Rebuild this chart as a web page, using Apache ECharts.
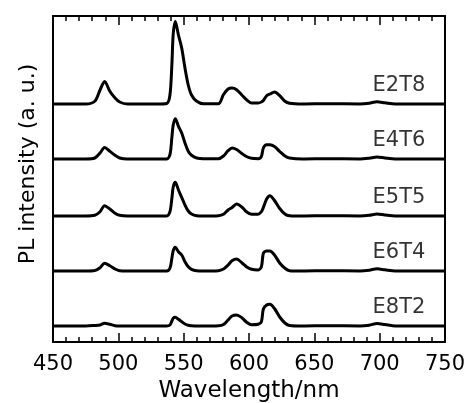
<!DOCTYPE html>
<html>
<head>
<meta charset="utf-8">
<script src="https://cdn.jsdelivr.net/npm/echarts@6/dist/echarts.min.js"></script>
<style>
  html, body { margin: 0; padding: 0; background: #fff; }
  #chart { width: 467px; height: 403px; }
</style>
</head>
<body>
<div id="chart"></div>
<script>
// 波长 (nm)，所有样品共用
var wavelengths = [450, 475, 482, 486, 489.5, 493.5, 497.5, 501, 507, 530, 537, 539.5, 541, 542, 543.6, 546, 548.5, 551, 553.5, 556, 560, 565, 576.5, 580.5, 584, 587, 590.5, 594.5, 598, 602, 607, 609.5, 611, 613.5, 616, 619.5, 623.5, 627.5, 631, 641, 660, 685, 692, 698, 704, 712, 750];

// 各样品的 PL 强度 (a.u.)
var e2t8 = [0,0,2.7,14,22.6,12.7,6,2,0,0,0.5,9,40,70,82.6,69,56,36,19,9,2.7,0.3,0.3,9.5,15,16,14.3,9,4.3,1,1,2,3.5,8.3,10,12,8.3,2.7,0.7,0,0.3,0,0.8,2.2,1.2,0,0];
var e4t6 = [0,0,1,6,11.5,7.7,3.7,1,0,0,0,4.3,22,34,40.3,32.7,26,16,7.7,3.7,1,0.3,0.3,3,8.3,11,9.5,5.5,2.5,0.7,0.3,2.7,11,14.3,14.3,12.5,7.5,3,1,0,0.3,0,0.8,2,1,0,0];
var e5t5 = [0,0,0.7,4.3,10.3,7,2.7,0.7,0,0,0,4.3,18,29,33.7,26,18.7,11,5,2,0.3,0,0.3,1.7,6,8.5,12,9,4.3,1.7,1.7,4.3,8.5,17,20.3,15.5,7.5,2,0.3,0,0.3,0,0.7,2,1,0,0];
var e6t4 = [0,0,0.5,3.3,7.7,5.3,2,0.3,0,0,0,2.7,13,20.3,23.7,19.3,16,9.3,4.3,1.7,0.3,0,0.3,2,6,10.3,12,8.3,4.3,1.7,1,4.3,17.7,20,20,16,8,2.7,0.3,0,0.3,0,0.8,2.2,1.2,0,0];
var e8t2 = [0,0,0.5,1,2.7,1.7,0.3,0,0,0,0,1,5,7.7,8.7,6.7,4.3,2,0.7,0.3,0,0,0.3,1.5,6,10,11,8.3,4,1.2,1.7,4.3,17,21,21.7,17.5,9,3,0.5,0,0.3,0,0.8,2.5,1.5,0,0];

var names = ['E2T8', 'E4T6', 'E5T5', 'E6T4', 'E8T2'];
var spectra = [e2t8, e4t6, e5t5, e6t4, e8t2];
var offsets = [222, 167, 110, 55, 0];   // 纵向错开
var xTicks = [450, 500, 550, 600, 650, 700, 750];

var font = 'DejaVu Sans';

var series = spectra.map(function (vals, i) {
    return {
        name: names[i],
        type: 'line',
        smooth: 0.3,
        showSymbol: false,
        symbol: 'none',
        lineStyle: { color: '#000', width: 3 },
        data: wavelengths.map(function (w, k) { return [w, vals[k] + offsets[i]]; })
    };
});

// 样品名标注
series.push({
    type: 'scatter',
    symbolSize: 0,
    silent: true,
    label: {
        show: true,
        position: 'inside',
        formatter: function (p) { return names[p.dataIndex]; },
        color: '#000',
        fontFamily: font,
        fontSize: 21,
        align: 'right',
        verticalAlign: 'middle'
    },
    data: offsets.map(function (o) { return [735, o + 18]; })
});

var xAxisBase = {
    type: 'value',
    min: xTicks[0],
    max: xTicks[xTicks.length - 1],
    interval: 50,
    axisLine: { show: true, onZero: false, lineStyle: { color: '#000', width: 2 } },
    axisTick: { show: true, inside: true, length: 9, lineStyle: { color: '#000', width: 1.5 } },
    minorTick: { show: true, splitNumber: 5, length: 5, lineStyle: { color: '#000', width: 1.5 } },
    splitLine: { show: false }
};

var chart = echarts.init(document.getElementById('chart'));
chart.setOption({
    animation: false,
    backgroundColor: '#fff',
    grid: { left: 53, right: 22, top: 16, bottom: 61, outerBoundsMode: 'none' },
    xAxis: [
        Object.assign({}, xAxisBase, {
            position: 'bottom',
            name: 'Wavelength/nm',
            nameLocation: 'middle',
            nameGap: 37,
            nameTextStyle: { color: '#000', fontFamily: font, fontSize: 23 },
            axisLabel: { color: '#000', fontFamily: font, fontSize: 21, margin: 12 }
        }),
        Object.assign({}, xAxisBase, {
            position: 'top',
            axisLabel: { show: false }
        })
    ],
    yAxis: [
        {
            type: 'value',
            min: -16,
            max: 310,
            name: 'PL intensity (a. u.)',
            nameLocation: 'middle',
            nameGap: 14,
            nameTextStyle: { color: '#000', fontFamily: font, fontSize: 22, padding: [0, 0, 0, 30] },
            axisLine: { show: true, onZero: false, lineStyle: { color: '#000', width: 2 } },
            axisTick: { show: false },
            axisLabel: { show: false },
            splitLine: { show: false }
        },
        {
            type: 'value',
            position: 'right',
            min: -16,
            max: 310,
            axisLine: { show: true, onZero: false, lineStyle: { color: '#000', width: 2 } },
            axisTick: { show: false },
            axisLabel: { show: false },
            splitLine: { show: false }
        }
    ],
    series: series
});
</script>
</body>
</html>
